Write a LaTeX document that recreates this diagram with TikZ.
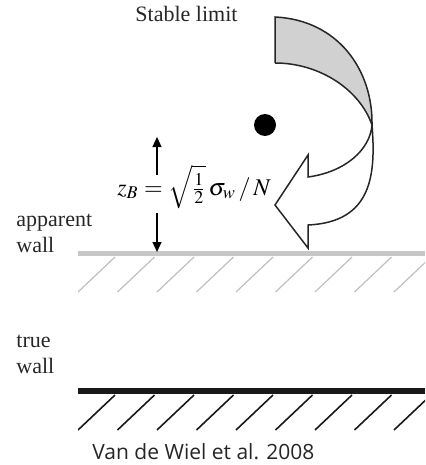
\documentclass[tikz,border=0pt]{standalone}
\usepackage{amsmath}
\usepackage{mathptmx}
\usepackage[no-math]{fontspec}
\setmainfont{Liberation Serif}
\newfontfamily\credfont{Open Sans}
\usetikzlibrary{arrows.meta}

\begin{document}
\begin{tikzpicture}[x=0.5pt,y=-0.5pt,
  lbl/.style={font=\fontsize{11}{12.6}\selectfont,text=black!85,align=left,anchor=base west,inner sep=0pt},
  wallgray/.style={draw=black!22,line width=2.5pt},
  wallblack/.style={draw=black!90,line width=3pt},
  hatchgray/.style={draw=black!25,line width=0.6pt},
  hatchblack/.style={draw=black!90,line width=0.8pt},
  curl/.style={draw=black!85,line width=0.75pt,line join=miter},
  zarr/.style={draw=black,line width=0.6pt,-{Triangle[length=5pt,width=4.5pt]}}
]
\useasboundingbox (0,0) rectangle (425,465);
\def\hsp{39.5}

% apparent wall
\begin{scope}
  \clip (78,250) rectangle (425,300);
  \foreach \i in {0,...,8}
    { \draw[hatchgray] (78+\hsp*\i,292) -- ++(37,-35); }
\end{scope}
\coordinate (aw0) at (78,253);
\coordinate (aw1) at (425,253);
\draw[wallgray] (aw0) -- (aw1);

% true wall
\begin{scope}
  \clip (78,388) rectangle (425,435);
  \foreach \i in {0,...,8}
    { \draw[hatchblack] (78+\hsp*\i,430) -- ++(37,-35); }
\end{scope}
\coordinate (tw0) at (78,391);
\coordinate (tw1) at (425,391);
\draw[wallblack] (tw0) -- (tw1);

% labels (base = last line)
\node[lbl] (stab) at (135,22) {Stable limit};
\node[lbl] (app)  at (16,252) {apparent\\wall};
\node[lbl] (tru)  at (16,373) {true\\wall};
\node[font=\credfont\fontsize{10.5}{12}\selectfont,text=black!85,anchor=base west,inner sep=0pt]
  (cred) at (92,459) {Van de Wiel et al. 2008};

% particle
\node[circle,fill=black,inner sep=0pt,minimum size=11pt] (dot) at (265,125) {};

% height z_B
\node[font=\fontsize{12}{14}\selectfont,anchor=base west,inner sep=0pt]
  (zb) at (117,195) {$z_B = \sqrt{\tfrac{1}{2}}\,\sigma_w\,/\,N$};
\coordinate (zt) at (157,137);
\coordinate (zu) at (157,175);
\coordinate (zd) at (157,213);
\coordinate (zw) at (157,252);
\draw[zarr] (zu) -- (zt);
\draw[zarr] (zd) -- (zw);

% twisted arrow
\coordinate (cr) at (372,125);
\fill[black!18] (275,17) .. controls (338,20) and (373,70) .. (cr)
  .. controls (360,90) and (320,63) .. (275,63) -- cycle;
\draw[curl] (275,63) -- (275,17) .. controls (338,20) and (373,70) .. (cr)
  .. controls (370,150) and (345,172) .. (308,177) -- (308,155) -- (275,205)
  -- (308,248) -- (308,225) .. controls (372,222) and (376,175) .. (cr)
  .. controls (360,90) and (320,63) .. (275,63);
\end{tikzpicture}
\end{document}
